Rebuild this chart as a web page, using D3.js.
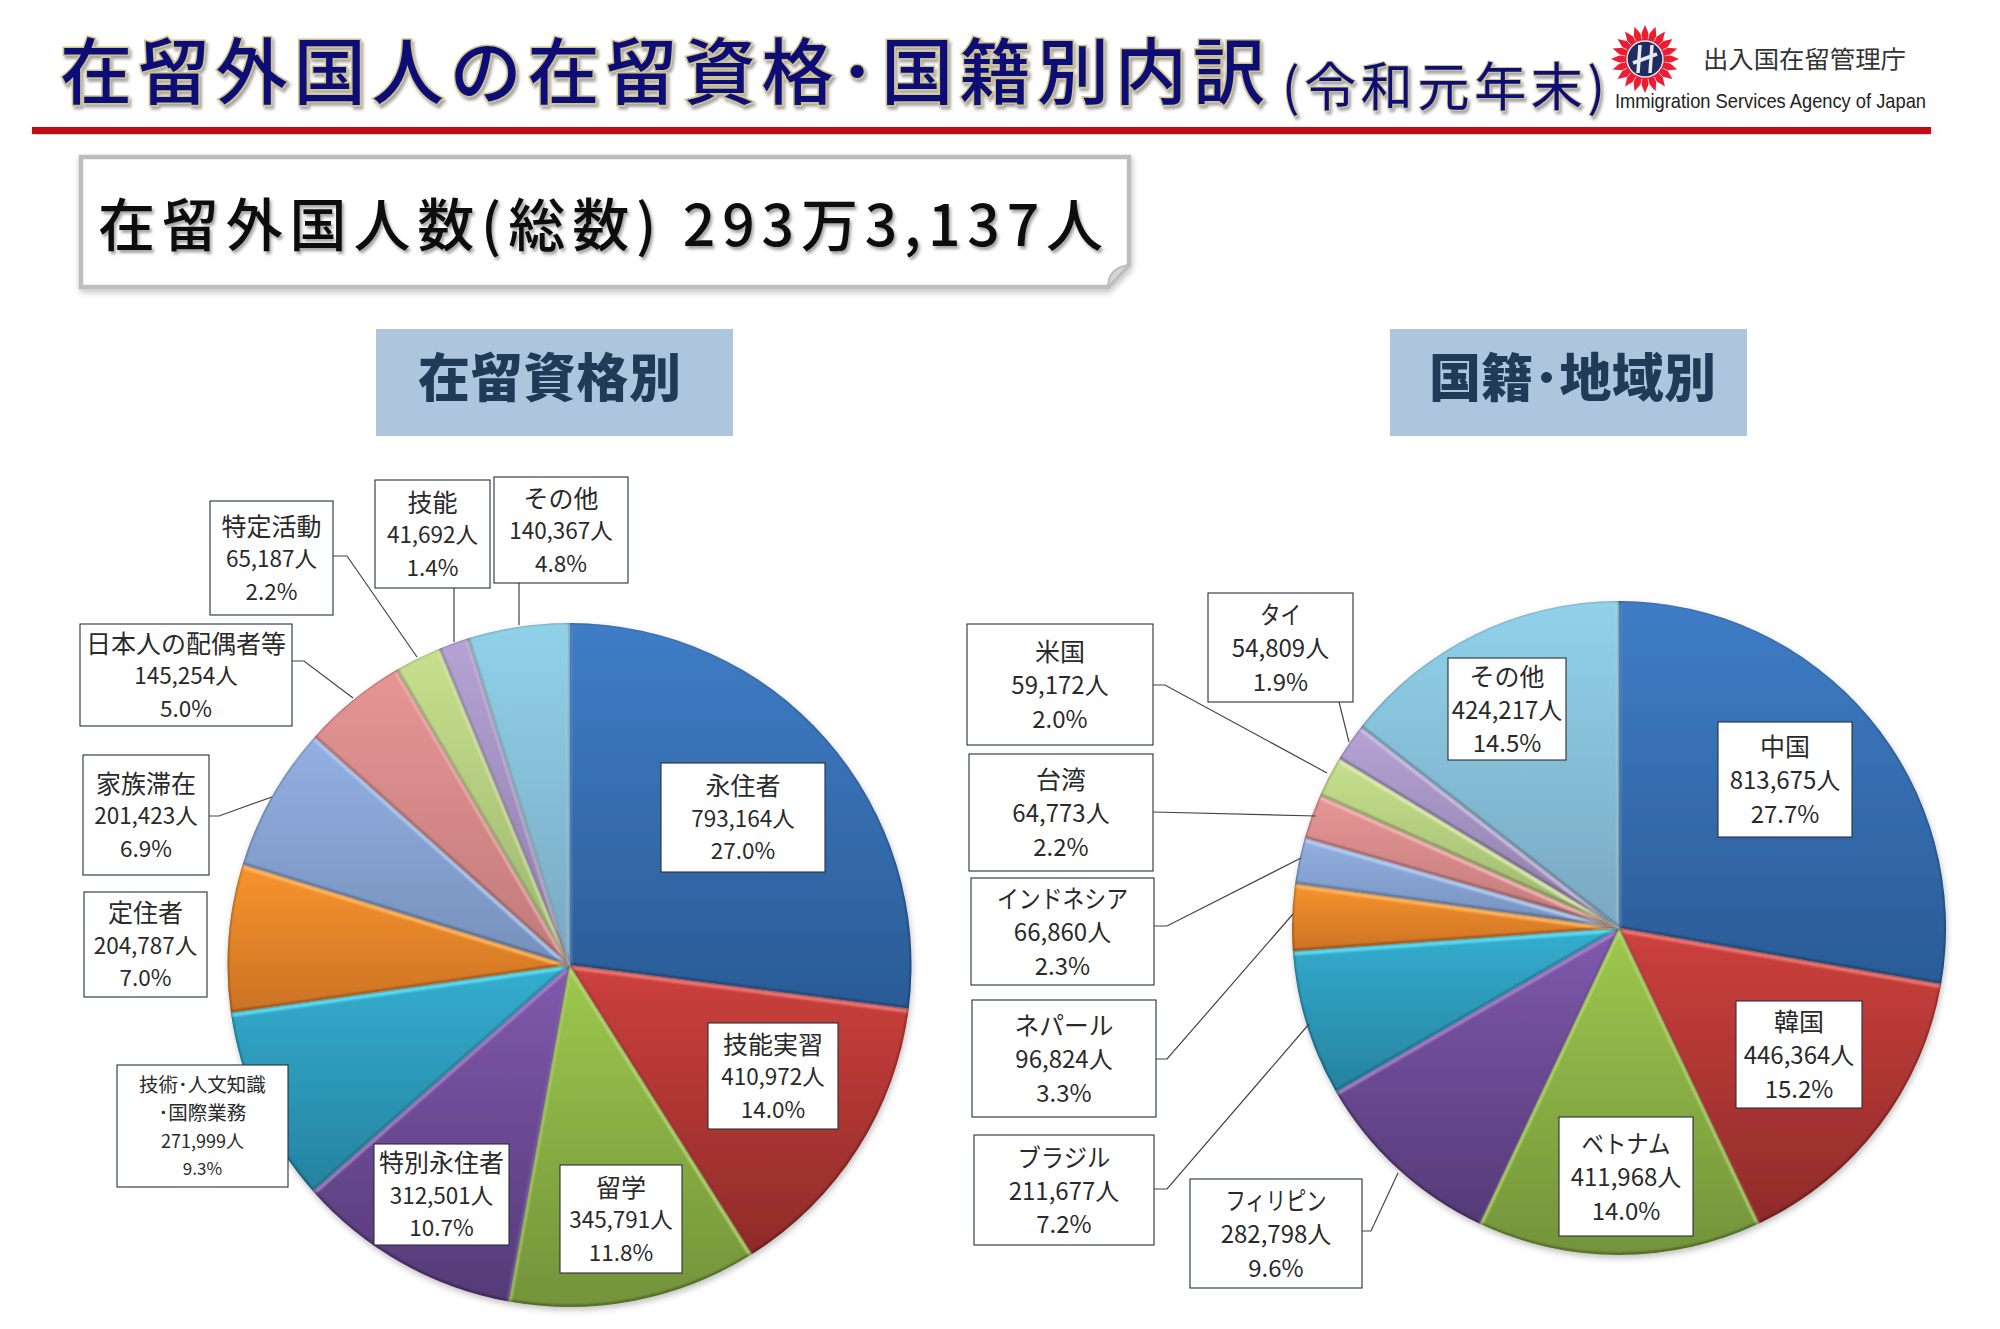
<!DOCTYPE html>
<html><head><meta charset="utf-8">
<script src="https://cdn.jsdelivr.net/npm/d3@7/dist/d3.min.js"></script>
<style>
html,body{margin:0;padding:0;background:#fff}
svg{display:block}
text{font-family:"Noto Sans CJK JP","Noto Sans",sans-serif}
</style></head><body>
<svg id="c" width="2000" height="1329" viewBox="0 0 2000 1329"></svg>
<script>
// ---- data ----
const statusNames = [["永住者"],["技能実習"],["留学"],["特別永住者"],["技術･人文知識","･国際業務"],["定住者"],["家族滞在"],["日本人の配偶者等"],["特定活動"],["技能"],["その他"]];
const statusValues = [793164,410972,345791,312501,271999,204787,201423,145254,65187,41692,140367];
const statusPercents = ["27.0%","14.0%","11.8%","10.7%","9.3%","7.0%","6.9%","5.0%","2.2%","1.4%","4.8%"];
const nationNames = [["中国"],["韓国"],["ベトナム"],["フィリピン"],["ブラジル"],["ネパール"],["インドネシア"],["台湾"],["米国"],["タイ"],["その他"]];
const nationValues = [813675,446364,411968,282798,211677,96824,66860,64773,59172,54809,424217];
const nationPercents = ["27.7%","15.2%","14.0%","9.6%","7.2%","3.3%","2.3%","2.2%","2.0%","1.9%","14.5%"];
// ---- palette (top colour, bottom colour, rim colour) ----
const paletteTop = ["#3f7dc6","#cd403d","#9ec84e","#8059ad","#33aed0","#f8942e","#93b0e2","#e69694","#c6e08e","#b5a3d4","#90d2ea"];
const paletteBottom = ["#2a5b96","#8f2b29","#73933a","#553a78","#2682a0","#cc7224","#7590bb","#c07a7a","#9cb46c","#8c7da8","#7aa8c2"];
const paletteRim = ["#6ea4e2","#ee7f7a","#c2e27c","#ab8ad2","#66e2f6","#ffbb6a","#bcd0f4","#f6bcba","#e2f0b8","#d4c6e8","#b8e8f6"];
// ---- layout ----
const statusBoxes = [[661,763,825,872],[708,1023,838,1129],[560,1165,682,1273],[374,1144,509,1245],[117,1065,288,1187],[84,892,207,997],[83,755,209,875],[80,624,292,726],[210,501,333,615],[375,480,490,588],[494,477,628,583]];
const nationBoxes = [[1718,722,1852,837],[1736,1001,1862,1108],[1559,1117,1693,1236],[1190,1179,1362,1288],[974,1135,1154,1245],[972,1000,1156,1117],[971,878,1154,985],[969,754,1153,871],[967,624,1153,745],[1208,593,1353,702],[1448,658,1566,760]];
const statusLeaders = [[[519,583],[519,625]],[[454,588],[454,642]],[[333,556],[347,556],[417,657]],[[292,661],[304,661],[353,698]],[[209,816],[219,816],[272,797]]];
const nationLeaders = [[[1339,702],[1349,742]],[[1153,685],[1165,685],[1327,773]],[[1153,812],[1316,816]],[[1154,926],[1167,926],[1301,858]],[[1156,1059],[1167,1059],[1293,914]],[[1154,1189],[1167,1189],[1309,1024]],[[1362,1231],[1371,1231],[1398,1173]]];
const statusNameWidths = {};
const nationNameWidths = {2:89,3:101,4:93,5:99,6:131,9:41};

const svg = d3.select("#c");
const defs = svg.append("defs");
const soft = defs.append("filter").attr("id","soft").attr("x","-10%").attr("y","-10%").attr("width","120%").attr("height","120%");
soft.append("feDropShadow").attr("dx",1).attr("dy",3).attr("stdDeviation",3).attr("flood-color","#000").attr("flood-opacity",.25);
const txs = defs.append("filter").attr("id","txs").attr("x","-5%").attr("y","-10%").attr("width","110%").attr("height","125%");
txs.append("feDropShadow").attr("dx",2).attr("dy",3).attr("stdDeviation",1.5).attr("flood-color","#333").attr("flood-opacity",.45);
defs.append("filter").attr("id","blur1").append("feGaussianBlur").attr("stdDeviation",0.9);

// ---- header ----
svg.append("text").attr("x",60).attr("y",98).attr("textLength",1205).attr("lengthAdjust","spacing")
  .attr("font-size",72).attr("font-weight",500).attr("fill","#0b0b78")
  .attr("stroke","#cfc28a").attr("stroke-width",3).attr("paint-order","stroke").attr("filter","url(#txs)")
  .text("在留外国人の在留資格･国籍別内訳");
svg.append("text").attr("x",1282).attr("y",106).attr("textLength",323).attr("lengthAdjust","spacing")
  .attr("font-size",52).attr("font-weight",400).attr("fill","#0b0b78")
  .attr("stroke","#cfc28a").attr("stroke-width",2).attr("paint-order","stroke").attr("filter","url(#txs)")
  .text("(令和元年末)");
svg.append("rect").attr("x",32).attr("y",127).attr("width",1899).attr("height",7).attr("fill","#bf0f18").attr("filter","url(#soft)");

// logo
const logo = svg.append("g").attr("transform","translate(1645,59)");
const rays = 20;
logo.append("path").attr("fill","#ee1c30").attr("d",d3.lineRadial().curve(d3.curveLinearClosed)(
  d3.range(rays*2).map(i=>[i*Math.PI/rays, i%2?25:34])));
d3.range(rays).forEach(i=>{
  const a=(i+.5)/rays*2*Math.PI;
  logo.append("line").attr("x1",20*Math.cos(a)).attr("y1",20*Math.sin(a)).attr("x2",31*Math.cos(a)).attr("y2",31*Math.sin(a)).attr("stroke","#fff").attr("stroke-width",1).attr("opacity",.75);
});
logo.append("circle").attr("r",18).attr("fill","#1f2c60").attr("stroke","#dfe3ee").attr("stroke-width",1.5);
logo.append("path").attr("d","M-5,-14L-7,14M7,-14L5,14M-12,4L12,-5").attr("stroke","#e8eaf2").attr("stroke-width",3.5).attr("fill","none");
svg.append("text").attr("x",1703).attr("y",68).attr("textLength",203).attr("lengthAdjust","spacingAndGlyphs").attr("font-size",24).attr("fill","#333").text("出入国在留管理庁");
svg.append("text").attr("x",1615).attr("y",108).attr("textLength",311).attr("lengthAdjust","spacingAndGlyphs").attr("font-size",21).attr("fill","#222").style("font-family","'Liberation Sans',sans-serif").text("Immigration Services Agency of Japan");

// total box with folded corner
svg.append("path").attr("d","M81,157H1129V265L1108,287H81Z").attr("fill","#fff").attr("stroke","#bdbdbd").attr("stroke-width",4.5).attr("filter","url(#soft)");
svg.append("path").attr("d","M1129,265L1108,287Q1108,268 1129,265Z").attr("fill","#d5d5d5").attr("stroke","#bdbdbd").attr("stroke-width",2);
svg.append("text").attr("x",98).attr("y",246).attr("textLength",1005).attr("lengthAdjust","spacing")
  .attr("font-size",57).attr("font-weight",500).attr("fill","#0a0a0a").attr("filter","url(#txs)").text("在留外国人数(総数) 293万3,137人");

// section headings
[[376,357,"在留資格別",418,263],[1390,357,"国籍･地域別",1429,287]].forEach(d=>{
  svg.append("rect").attr("x",d[0]).attr("y",329).attr("width",d[1]).attr("height",107).attr("fill","#adc6de");
  svg.append("text").attr("x",d[3]).attr("y",397).attr("textLength",d[4]).attr("lengthAdjust","spacing")
    .attr("font-size",52).attr("font-weight",900).attr("fill","#1f3b57").text(d[2]);
});

// ---- pies ----
function drawPie(id,cx,cy,r,names,values,percents,boxes,leaders,step,numSize,nameWidths){
  const g = svg.append("g").attr("transform",`translate(${cx},${cy})`);
  const arcs = d3.pie().sort(null).startAngle(0).endAngle(2*Math.PI)(values);
  const arc = d3.arc().innerRadius(0).outerRadius(r);
  paletteTop.forEach((c,i)=>{
    const lg = defs.append("linearGradient").attr("id",`${id}${i}`).attr("x1",0).attr("x2",0).attr("y1",0).attr("y2",1);
    lg.append("stop").attr("offset",0).attr("stop-color",c);
    lg.append("stop").attr("offset",1).attr("stop-color",paletteBottom[i]);
    defs.append("clipPath").attr("id",`${id}clip${i}`).append("path").attr("d",arc(arcs[i]));
  });
  const pg = g.append("g").attr("filter","url(#soft)");
  pg.selectAll("path.s").data(arcs).join("path").attr("class","s")
    .attr("d",arc).attr("fill",(d,i)=>`url(#${id}${i})`);
  // bevel: lit upper radial edges, shaded lower edges, each clipped to its own slice
  const spokes = d3.lineRadial();
  const bevel = g.selectAll("g.b").data(arcs).join("g").attr("class","b").attr("clip-path",(d,i)=>`url(#${id}clip${i})`);
  bevel.append("path").attr("d",d=>spokes([[d.startAngle,r],[0,0],[d.endAngle,r]])).attr("transform","translate(0,2.2)").attr("fill","none")
    .attr("stroke",(d,i)=>paletteRim[i]).attr("stroke-width",4).attr("filter","url(#blur1)").attr("opacity",.9);
  bevel.append("path").attr("d",arc).attr("transform","translate(0,-1)").attr("fill","none")
    .attr("stroke","#000").attr("stroke-opacity",.4).attr("stroke-width",2).attr("filter","url(#blur1)");
  const line = d3.line();
  svg.append("g").selectAll("path").data(leaders).join("path").attr("d",line).attr("fill","none").attr("stroke","#444").attr("stroke-width",1.2);
  const lab = svg.append("g").selectAll("g").data(arcs).join("g");
  lab.each(function(d,i){
    const b=boxes[i], sel=d3.select(this);
    sel.append("rect").attr("x",b[0]).attr("y",b[1]).attr("width",b[2]-b[0]).attr("height",b[3]-b[1])
      .attr("fill","#fff").attr("stroke","#26303a").attr("stroke-width",1.1);
    const lines=[...names[i],d3.format(",")(values[i])+"人",percents[i]];
    const small=lines.length>3, st=small?28:step, n=lines.length;
    const sizes=small?[19.5,19.5,18,17]:[25,numSize,numSize];
    lines.forEach((t,k)=>{
      const tx=sel.append("text").attr("x",(b[0]+b[2])/2).attr("y",(b[1]+b[3])/2+(k-(n-1)/2)*st+1.5)
       .attr("dy","0.35em").attr("text-anchor","middle").attr("font-size",sizes[k])
       .attr("fill","#2a2a2a").text(t);
      if(k===0 && nameWidths[i]) tx.attr("textLength",nameWidths[i]).attr("lengthAdjust","spacingAndGlyphs");
    });
  });
}
drawPie("a",569.5,965,342,statusNames,statusValues,statusPercents,statusBoxes,statusLeaders,32.5,22.5,statusNameWidths);
drawPie("b",1619,928,327,nationNames,nationValues,nationPercents,nationBoxes,nationLeaders,33.5,24,nationNameWidths);
</script></body></html>
